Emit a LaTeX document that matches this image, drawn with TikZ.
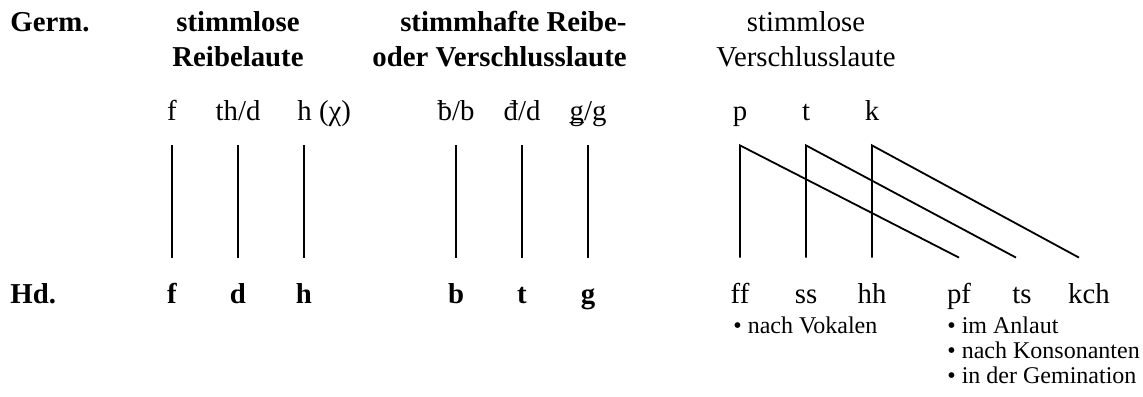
\documentclass[tikz,border=0pt]{standalone}
\usepackage{fontspec}
\setmainfont{Liberation Serif}
\usetikzlibrary{positioning}

\begin{document}
\begin{tikzpicture}
                            [x=0.5pt, y=-0.5pt,
                             every node/.style={inner sep=0pt, font=\fontsize{14.4}{17.5}\selectfont},
                             head/.style={font=\fontsize{14.4}{17.5}\selectfont\bfseries},
                             sound/.style={anchor=base, text height=10pt, text depth=2pt},
                             hd/.style={sound, font=\fontsize{14.4}{17.5}\selectfont\bfseries},
                             note/.style={anchor=base west, align=left, font=\fontsize{12}{12.5}\selectfont},
                             link/.style={draw, line width=0.9pt}]
    \useasboundingbox (0,0) rectangle (1143,396);

    % headers
    \node[head, anchor=base west] (germ) at (10,31) {Germ.};
    \node[head, anchor=base, align=center] (stlr) at (238,66) {stimmlose\\Reibelaute};
    \node[head, anchor=base east, align=right] (sthr) at (627,66) {stimmhafte Reibe-\\oder Verschlusslaute};
    \node[anchor=base, align=center] (stlv) at (806,66) {stimmlose\\Verschlusslaute};

    % germanic sounds
    \node[sound] (gf) at (172,120) {f};
    \node[sound] (gth) at (238,120) {th/d};
    \node[sound, anchor=base west] (gh) at (297,120) {h (χ)};
    \node[sound] (gb) at (456,120) {ƀ/b};
    \node[sound] (gd) at (522,120) {đ/d};
    \node[sound] (gg) at (588,120) {ǥ/g};
    \node[sound] (gp) at (740,120) {p};
    \node[sound] (gt) at (806,120) {t};
    \node[sound] (gk) at (872,120) {k};

    % high german sounds
    \node[head, anchor=base west] (hdlabel) at (10,303) {Hd.};
    \node[hd] (hf) at (172,303) {f};
    \node[hd] (hd) at (238,303) {d};
    \node[hd] (hh) at (304,303) {h};
    \node[hd] (hb) at (456,303) {b};
    \node[hd] (ht) at (522,303) {t};
    \node[hd] (hg) at (588,303) {g};
    \node[sound] (hff) at (740,303) {ff};
    \node[sound] (hss) at (806,303) {ss};
    \node[sound] (hhh) at (872,303) {hh};
    \node[sound] (hpf) at (959,303) {pf};
    \node[sound] (hts) at (1022,303) {ts};
    \node[sound] (hkch) at (1089,303) {kch};

    \node[note] (vok) at (733,333) {• nach Vokalen};
    \node[note] (anl) at (947,383) {• im Anlaut\\• nach Konsonanten\\• in der Gemination};

    % straight lines
    \draw[link] ([yshift=-10.5pt]gf.south) -- ([yshift=12.5pt]hf.north);
    \draw[link] ([yshift=-10.5pt]gth.south) -- ([yshift=12.5pt]hd.north);
    \draw[link] ([yshift=-10.5pt]gh.south -| hh) -- ([yshift=12.5pt]hh.north);
    \draw[link] ([yshift=-10.5pt]gb.south) -- ([yshift=12.5pt]hb.north);
    \draw[link] ([yshift=-10.5pt]gd.south) -- ([yshift=12.5pt]ht.north);
    \draw[link] ([yshift=-10.5pt]gg.south) -- ([yshift=12.5pt]hg.north);

    % shifted lines
    \draw[link] ([yshift=12.5pt]hff.north) -- ([yshift=-10.5pt]gp.south) -- ([yshift=12.5pt]hpf.north);
    \draw[link] ([yshift=12.5pt]hss.north) -- ([yshift=-10.5pt]gt.south) -- ([yshift=12.5pt, xshift=-3pt]hts.north);
    \draw[link] ([yshift=12.5pt]hhh.north) -- ([yshift=-10.5pt]gk.south) -- ([yshift=12.5pt, xshift=-5pt]hkch.north);
\end{tikzpicture}
\end{document}
